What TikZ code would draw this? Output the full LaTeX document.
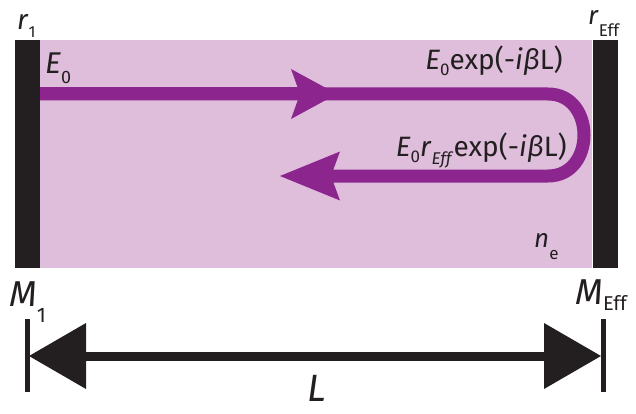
\documentclass[tikz,border=0pt]{standalone}
\usepackage{fontspec}
\setmainfont{Fira Sans}
\usepackage{tikz}
\usetikzlibrary{arrows.meta}
\definecolor{cavitypink}{RGB}{223,190,220}
\definecolor{beampurple}{RGB}{140,37,142}
\definecolor{mirrorblack}{RGB}{35,31,32}
\newcommand{\fs}[1]{\fontsize{#1}{#1}\selectfont}
\newcommand{\lowsub}[3]{\raisebox{-#1pt}{\fs{#2}#3}}

\begin{document}
\begin{tikzpicture}[x=1pt,y=-1pt,
 mirror/.style={rectangle,fill=mirrorblack,minimum width=25pt,minimum height=228pt,inner sep=0pt},
 cavity/.style={rectangle,fill=cavitypink,minimum width=552pt,minimum height=228pt,inner sep=0pt},
 beam/.style={beampurple,line width=13pt},
 dim/.style={mirrorblack,line width=9pt},
 tick/.style={mirrorblack,line width=5pt},
 lab/.style={inner sep=0pt,text=mirrorblack}
]
\useasboundingbox (0,0) rectangle (636,414);
\node[cavity] (cav) at (316,154) {};
\node[mirror] (m1) at (27.5,154) {}; \node[mirror] (meff) at (605,154) {};
% round trip of the field
\coordinate (bs) at (40,94); \coordinate (bm) at (337,94); \coordinate (bt) at (548,94);
\coordinate (bb) at (548,176); \coordinate (be) at (280,176);
\draw[beam,-{Stealth[length=60pt,width=49pt,inset=9pt,line width=0pt]}] (bs) -- (bt) .. controls +(48,0) and +(48,0) .. (bb) -- (be);
\draw[beam,-{Stealth[length=46pt,width=50pt,inset=9pt,line width=0pt]}] (bs) -- (bm);
% cavity length
\coordinate (dl) at (29,356); \coordinate (dr) at (601,356);
\coordinate (t1a) at (27,319); \coordinate (t1b) at (27,392);
\coordinate (t2a) at (603,319); \coordinate (t2b) at (603,392);
\draw[tick] (t1a) -- (t1b); \draw[tick] (t2a) -- (t2b);
\draw[dim,{Triangle[length=57pt,width=66pt,line width=0pt]}-{Triangle[length=57pt,width=66pt,line width=0pt]}] (dl) -- (dr);
% labels
\node[lab,anchor=base west] (r1) at (17,30) {\fs{28}\textit{r}\lowsub{8}{16}{1}};
\node[lab,anchor=base west] (reff) at (588,25) {\fs{26}\textit{r}\lowsub{12}{17}{Eff}};
\node[lab,anchor=base west] (e0) at (45,74) {\fs{30}\textit{E}\lowsub{10}{18}{0}};
\node[lab,anchor=base east] (fwd) at (563,70) {\fs{28}\textit{E}\lowsub{6}{17}{0}exp(-\textit{iβ}L)};
\node[lab,anchor=base east] (bwd) at (567,157) {\fs{28}\textit{E}\lowsub{6}{17}{0}\textit{r}\lowsub{8}{17}{\textit{Eff}}exp(-\textit{iβ}L)};
\node[lab,anchor=base west] (ne) at (534,247) {\fs{26}\textit{n}\lowsub{12}{17}{e}};
\node[lab,anchor=base west] (M1) at (9,306) {\fs{36}\textit{M}\lowsub{16}{21}{1}};
\node[lab,anchor=base west] (Meff) at (575,304) {\fs{36}\textit{M}\lowsub{6}{20}{Eff}};
\node[lab,anchor=base] (len) at (317,401) {\fs{38}\textit{L}};
\end{tikzpicture}
\end{document}
